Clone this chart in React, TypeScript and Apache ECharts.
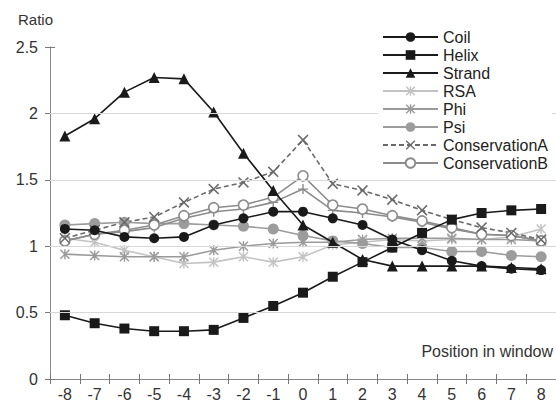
import React, { useEffect, useRef } from "react";
import * as echarts from "echarts";

const positions = ["-8", "-7", "-6", "-5", "-4", "-3", "-2", "-1", "0", "1", "2", "3", "4", "5", "6", "7", "8"];
const coil = [1.13, 1.12, 1.07, 1.06, 1.07, 1.16, 1.21, 1.26, 1.26, 1.21, 1.16, 1.05, 0.97, 0.89, 0.85, 0.83, 0.82];
const helix = [0.48, 0.42, 0.38, 0.36, 0.36, 0.37, 0.46, 0.55, 0.65, 0.77, 0.88, 0.99, 1.1, 1.2, 1.25, 1.27, 1.28];
const strand = [1.83, 1.96, 2.16, 2.27, 2.26, 2.01, 1.7, 1.42, 1.16, 1.03, 0.9, 0.85, 0.85, 0.85, 0.85, 0.84, 0.83];
const rsa = [1.06, 1.03, 0.97, 0.92, 0.87, 0.88, 0.92, 0.88, 0.92, 1.01, 1.03, 1.05, 1.04, 1.05, 1.05, 1.07, 1.13];
const phi = [0.94, 0.93, 0.92, 0.92, 0.92, 0.97, 1.0, 1.02, 1.03, 1.03, 1.05, 1.06, 1.06, 1.06, 1.05, 1.05, 1.04];
const psi = [1.16, 1.17, 1.18, 1.17, 1.17, 1.16, 1.15, 1.13, 1.08, 1.04, 1.02, 0.99, 0.99, 0.96, 0.96, 0.93, 0.92];
const consA = [1.06, 1.12, 1.18, 1.22, 1.33, 1.43, 1.48, 1.56, 1.8, 1.47, 1.42, 1.35, 1.27, 1.2, 1.14, 1.1, 1.05];
const consB = [1.04, 1.09, 1.12, 1.16, 1.23, 1.29, 1.31, 1.37, 1.53, 1.31, 1.28, 1.23, 1.19, 1.14, 1.09, 1.08, 1.04];
const consC = [1.04, 1.09, 1.11, 1.14, 1.21, 1.26, 1.28, 1.33, 1.43, 1.27, 1.25, 1.22, 1.18, 1.13, 1.09, 1.08, 1.04];
const gridValues = [0.5, 1, 1.5, 2];
const legendNames = ["Coil", "Helix", "Strand", "RSA", "Phi", "Psi", "ConservationA", "ConservationB"];

const X_SYM = "path://M0,1 L1,0 L5,4 L9,0 L10,1 L6,5 L10,9 L9,10 L5,6 L1,10 L0,9 L4,5 Z";
const AST_SYM = "path://M0,1 L1,0 L5,4 L9,0 L10,1 L6,5 L10,9 L9,10 L5,6 L1,10 L0,9 L4,5 Z M4.3,0 H5.7 V10 H4.3 Z";
const PLUS_SYM = "path://M4.3,0 H5.7 V4.3 H10 V5.7 H5.7 V10 H4.3 V5.7 H0 V4.3 H4.3 Z";

const FONT = "Liberation Sans";

export default function App() {
  const ref = useRef<HTMLDivElement>(null);
  useEffect(() => {
    if (!ref.current) return;
    const chart = echarts.init(ref.current, null, { renderer: "svg" });
    const mk = (name: string, data: number[], color: string, symbol: string, size: number, extra: any = {}) => ({
      name,
      type: "line",
      data,
      symbol,
      symbolSize: size,
      showSymbol: true,
      lineStyle: { color, width: 1.6, ...(extra.lineStyle || {}) },
      itemStyle: { color, ...(extra.itemStyle || {}) },
      z: extra.z ?? 2,
    });
    chart.setOption({
      animation: false,
      backgroundColor: "#fff",
      textStyle: { fontFamily: FONT },
      grid: { left: 50, right: 0, top: 47, bottom: 27 },
      legend: {
        data: legendNames,
        orient: "vertical",
        left: 378,
        top: 26,
        itemWidth: 55,
        itemHeight: 12,
        itemGap: 2,
        padding: [3, 4],
        backgroundColor: "#fff",
        textStyle: { fontSize: 16, color: "#222", fontFamily: FONT },
        z: 10,
      },
      xAxis: [
        {
          type: "category",
          data: positions,
          boundaryGap: true,
          axisLine: { lineStyle: { color: "#888", width: 1 } },
          axisTick: { show: true, length: 5, lineStyle: { color: "#777" } },
          axisLabel: { fontSize: 16, color: "#333", margin: 7, fontFamily: FONT },
          splitLine: { show: false },
        },
        {
          type: "category",
          data: positions,
          boundaryGap: true,
          position: "bottom",
          axisLine: { show: false },
          axisTick: { show: true, inside: true, length: 5, lineStyle: { color: "#777" } },
          axisLabel: { show: false },
          splitLine: { show: false },
        },
      ],
      yAxis: [
        {
          type: "value",
          min: 0,
          max: 2.5,
          interval: 0.5,
          axisLine: { show: true, lineStyle: { color: "#888", width: 1 } },
          axisTick: { show: true, length: 5, lineStyle: { color: "#777" } },
          axisLabel: { fontSize: 16, color: "#333", margin: 12, fontFamily: FONT },
          splitLine: { show: false },
        },
        {
          type: "value",
          min: 0,
          max: 2.5,
          interval: 0.5,
          position: "left",
          axisLine: { show: false },
          axisTick: { show: true, inside: true, length: 5, lineStyle: { color: "#777" } },
          axisLabel: { show: false },
          splitLine: { show: false },
        },
      ],
      graphic: [
        { type: "text", left: 18, top: 12, style: { text: "Ratio", fontSize: 15, fill: "#333", fontFamily: FONT } },
        { type: "text", right: 3, top: 343, style: { text: "Position in window", fontSize: 16, fill: "#333", fontFamily: FONT } },
      ],
      series: [
        {
          name: "grid",
          type: "line",
          data: [],
          silent: true,
          z: 0,
          markLine: {
            silent: true,
            symbol: "none",
            label: { show: false },
            lineStyle: { color: "#d8d8d8", width: 1, type: "solid" },
            data: gridValues.map((v) => ({ yAxis: v })),
          },
        },
        mk("RSA", rsa, "#c2c2c2", AST_SYM, 10),
        mk("Phi", phi, "#9a9a9a", AST_SYM, 10),
        mk("Psi", psi, "#9c9c9c", "circle", 11),
        mk("ConservationC", consC, "#8c8c8c", PLUS_SYM, 10),
        mk("ConservationB", consB, "#8c8c8c", "circle", 10, {
          itemStyle: { color: "#fff", borderColor: "#8c8c8c", borderWidth: 1.6 },
        }),
        mk("ConservationA", consA, "#6a6a6a", X_SYM, 11, { lineStyle: { type: [5, 3] } }),
        mk("Coil", coil, "#1a1a1a", "circle", 10, { z: 3 }),
        mk("Helix", helix, "#1a1a1a", "rect", 10, { z: 3 }),
        mk("Strand", strand, "#1a1a1a", "triangle", 11, { z: 3 }),
      ],
    });
    return () => chart.dispose();
  }, []);
  return <div ref={ref} style={{ position: "absolute", left: 0, top: 0, width: 556, height: 406 }} />;
}
